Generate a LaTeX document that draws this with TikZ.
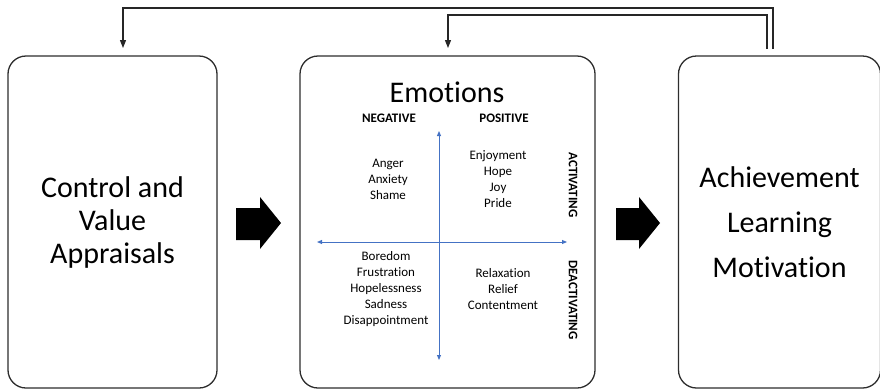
\documentclass[tikz,border=0pt]{standalone}
\usepackage{fontspec}
\setmainfont{Carlito}[RawFeature={-liga}]
\usetikzlibrary{arrows.meta}
\definecolor{boxgray}{RGB}{45,45,45}
\definecolor{axisblue}{RGB}{68,114,196}
\begin{document}
\begin{tikzpicture}[x=1pt,y=-1pt,
  bigbox/.style={draw=boxgray, line width=1.3pt, rounded corners=18pt,
    minimum width=#1, minimum height=332pt, inner sep=0pt, align=center},
  boxtext/.style={font=\fontsize{30}{#1}\selectfont},
  word/.style={font=\fontsize{13}{16}\selectfont, align=center, inner sep=0pt},
  head/.style={font=\bfseries\fontsize{13}{15}\selectfont, inner sep=0pt},
  fb/.style={draw=black!85, line width=1.2pt, -{Triangle[length=8pt,width=6pt]}},
  axis/.style={draw=axisblue, line width=0.9pt, {Triangle[length=5pt,width=4pt]}-{Triangle[length=5pt,width=4pt]}},
  blockarrow/.style={fill=black}
]
\useasboundingbox (0,0) rectangle (880,389);

% boxes
\node[bigbox=209pt, boxtext=33] (app) at (112.5,222) {Control and\\Value\\Appraisals};
\node[bigbox=295pt] (emo) at (447.5,222) {};
\node[bigbox=202pt, boxtext=45] (ach) at (779.5,222) {Achievement\\Learning\\Motivation};

% block arrows
\fill[blockarrow] (236,208) -- (260,208) -- (260,197) -- (281,223) -- (260,249) -- (260,240) -- (236,240) -- cycle;
\fill[blockarrow] (616,208) -- (639,208) -- (639,197) -- (660,223) -- (639,249) -- (639,240) -- (616,240) -- cycle;

% feedback connectors
\coordinate (fbOutStart) at (773,49);
\coordinate (fbInStart) at (767,49);
\coordinate (fbOutEnd) at (123,48);
\coordinate (fbInEnd) at (448,48);
\path[fb] (fbOutStart) -- (773,8) -| (fbOutEnd);
\path[fb] (fbInStart) -- (767,15) -| (fbInEnd);

% emotions content
\node[font=\fontsize{30}{33}\selectfont, inner sep=0pt] (title) at (447,92) {Emotions};
\node[head] (neg) at (389,118) {NEGATIVE};
\node[head] (pos) at (504,118) {POSITIVE};

\coordinate (vtop) at (439,131);
\coordinate (vbot) at (439,360);
\coordinate (hleft) at (317,242);
\coordinate (hright) at (567,242);
\path[axis] (vtop) -- (vbot);
\path[axis] (hleft) -- (hright);

\node[word] (na) at (388,179) {Anger\\Anxiety\\Shame};
\node[word] (pa) at (498,179) {Enjoyment\\Hope\\Joy\\Pride};
\node[word] (nd) at (386,289) {Boredom\\Frustration\\Hopelessness\\Sadness\\Disappointment};
\node[word] (pd) at (503,289) {Relaxation\\Relief\\Contentment};

\node[head, rotate=-90] (act) at (573,185) {ACTIVATING};
\node[head, rotate=-90] (deact) at (573,300) {DEACTIVATING};
\end{tikzpicture}
\end{document}
